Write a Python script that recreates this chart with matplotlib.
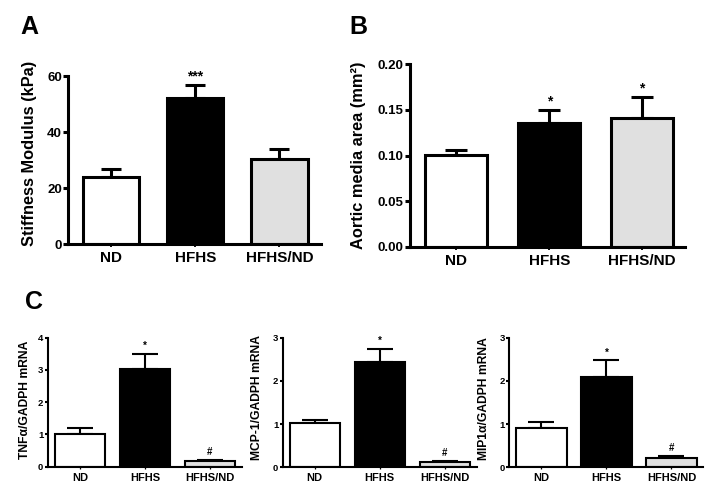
import matplotlib
matplotlib.use('Agg')
import matplotlib.pyplot as plt

plt.rcParams['font.family'] = ['Liberation Sans', 'DejaVu Sans']
plt.rcParams['font.weight'] = 'bold'

groups = ['ND', 'HFHS', 'HFHS/ND']
bar_colors = ['white', 'black', '#e0e0e0']

stiffness = [23.8, 52.0, 30.4]
stiffness_err = [2.9, 4.7, 3.6]
stiffness_marks = ['', '***', '']

media_area = [0.101, 0.136, 0.141]
media_area_err = [0.0055, 0.014, 0.0235]
media_area_marks = ['', '*', '*']

tnfa = [1.0, 3.02, 0.18]
tnfa_err = [0.21, 0.48, 0.03]
mcp1 = [1.02, 2.44, 0.115]
mcp1_err = [0.07, 0.31, 0.03]
mip1a = [0.92, 2.08, 0.21]
mip1a_err = [0.12, 0.40, 0.05]
c_marks = ['', '*', '#']

W, H = 715, 495
fig = plt.figure(figsize=(7.15, 4.95), dpi=100)


def px_rect(l, r, top, bot):
    return [l / W, 1 - bot / H, (r - l) / W, (bot - top) / H]


def panel(rect, vals, errs, ylim, yticks, yticklabels, xlim, width, lw,
          tick_fs, x_fs, capsize, ticklen, marks, mark_fs, mark_off):
    ax = fig.add_axes(rect)
    x = list(range(len(vals)))
    ax.bar(x, vals, width=width, color=bar_colors, edgecolor='black',
           linewidth=lw, zorder=2)
    ax.errorbar(x, vals, yerr=[[0] * len(vals), errs], fmt='none',
                ecolor='black', elinewidth=lw, capsize=capsize,
                capthick=lw, zorder=1)
    for xi, v, e, m in zip(x, vals, errs, marks):
        if m:
            ax.annotate(m, (xi, v + e), xytext=(0, mark_off),
                        textcoords='offset points', ha='center',
                        va='bottom', fontsize=mark_fs, fontweight='bold')
    ax.set_xlim(*xlim)
    ax.set_ylim(*ylim)
    ax.set_yticks(yticks)
    ax.set_yticklabels(yticklabels)
    ax.set_xticks(x)
    ax.set_xticklabels(groups)
    for s in ['top', 'right']:
        ax.spines[s].set_visible(False)
    for s in ['left', 'bottom']:
        ax.spines[s].set_linewidth(lw)
    ax.tick_params(axis='y', length=ticklen, width=lw, labelsize=tick_fs, pad=1)
    ax.tick_params(axis='x', length=ticklen * 0.6, width=lw * 0.6,
                   labelsize=x_fs, pad=3)
    for t in ax.get_xticklabels() + ax.get_yticklabels():
        t.set_fontweight('bold')
    ax.set_facecolor('none')
    return ax


# Panel A
panel(px_rect(68.3, 320.7, 76, 244), stiffness, stiffness_err, (0, 60),
      [0, 20, 40, 60], ['0', '20', '40', '60'], (-0.508, 2.49), 0.67, 2.2,
      9.5, 11, 7.5, 3.6, stiffness_marks, 10, 1)
fig.text(30 / W, 1 - 153 / H, 'Stiffness Modulus (kPa)', rotation=90,
         ha='center', va='center', fontsize=11.8, fontweight='bold')
fig.text(29 / W, 1 - 27 / H, 'A', ha='center', va='center', fontsize=18,
         fontweight='bold')

# Panel B
panel(px_rect(410, 685, 64.3, 246.7), media_area, media_area_err, (0, 0.20),
      [0, 0.05, 0.10, 0.15, 0.20], ['0.00', '0.05', '0.10', '0.15', '0.20'],
      (-0.50, 2.463), 0.67, 2.2, 9.5, 11, 8, 3.6, media_area_marks, 10, 1)
fig.text(359 / W, 1 - 155 / H, 'Aortic media area (mm²)', rotation=90,
         ha='center', va='center', fontsize=11.8, fontweight='bold')
fig.text(358 / W, 1 - 27 / H, 'B', ha='center', va='center', fontsize=18,
         fontweight='bold')

# Panel C
panel(px_rect(47.7, 241.7, 337.7, 466.7), tnfa, tnfa_err, (0, 4),
      [0, 1, 2, 3, 4], ['0', '1', '2', '3', '4'], (-0.497, 2.49), 0.77, 1.5,
      6.8, 8, 9.5, 2.2, c_marks, 7, 2)
fig.text(25 / W, 1 - 400 / H, 'TNFα/GADPH mRNA', rotation=90,
         ha='center', va='center', fontsize=8.7, fontweight='bold')

panel(px_rect(282.7, 476.7, 337.7, 467.3), mcp1, mcp1_err, (0, 3),
      [0, 1, 2, 3], ['0', '1', '2', '3'], (-0.49, 2.495), 0.77, 1.5,
      6.8, 8, 9.5, 2.2, c_marks, 7, 2)
fig.text(257 / W, 1 - 398 / H, 'MCP-1/GADPH mRNA', rotation=90,
         ha='center', va='center', fontsize=8.7, fontweight='bold')

panel(px_rect(509.3, 703, 337.7, 467.3), mip1a, mip1a_err, (0, 3),
      [0, 1, 2, 3], ['0', '1', '2', '3'], (-0.495, 2.485), 0.77, 1.5,
      6.8, 8, 9.5, 2.2, c_marks, 7, 2)
fig.text(484 / W, 1 - 399 / H, 'MIP1α/GADPH mRNA', rotation=90,
         ha='center', va='center', fontsize=8.7, fontweight='bold')

fig.text(34 / W, 1 - 302 / H, 'C', ha='center', va='center', fontsize=18,
         fontweight='bold')

fig.savefig('out.png', dpi=100)
